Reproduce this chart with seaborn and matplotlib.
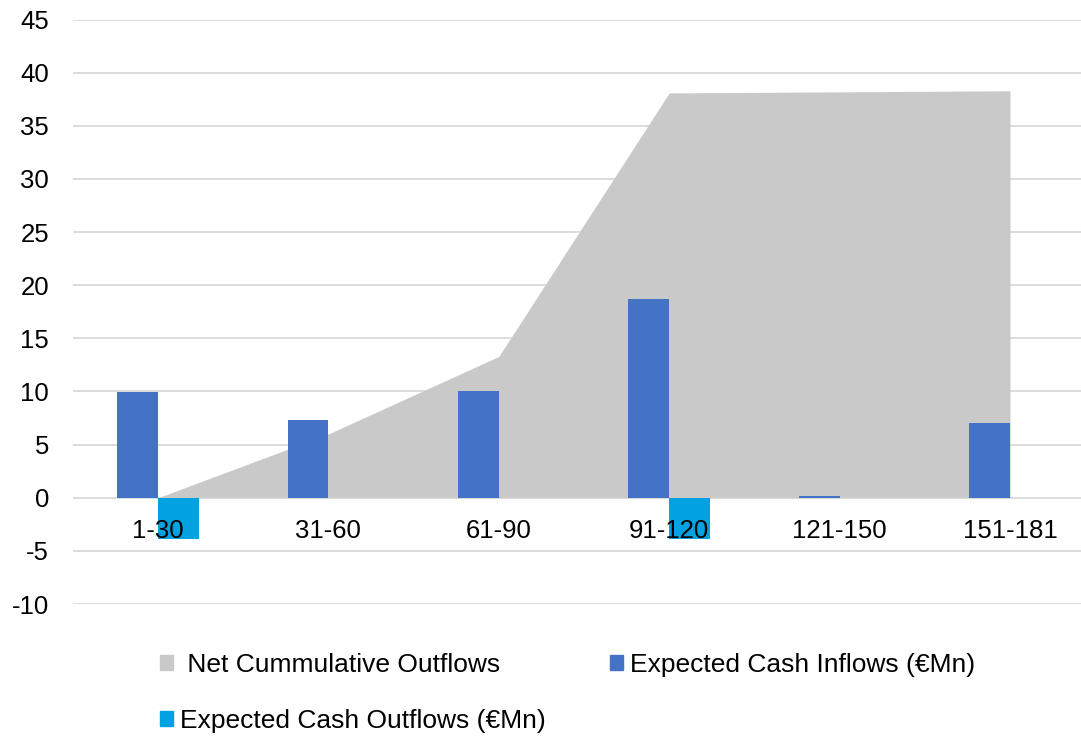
import matplotlib
matplotlib.use("Agg")
import matplotlib.pyplot as plt
import matplotlib.patches as mpatches
import seaborn as sns
import pandas as pd
import numpy as np

categories = ["1-30", "31-60", "61-90", "91-120", "121-150", "151-181"]
inflows = [9.95, 7.3, 10.05, 18.7, 0.2, 7.05]
outflows = [-3.9, 0, 0, -3.9, 0, 0]
net_cumulative = [0, 6.0, 13.3, 38.1, 38.2, 38.3]
yticks = [-10, -5, 0, 5, 10, 15, 20, 25, 30, 35, 40, 45]

name_in = "Expected Cash Inflows (€Mn)"
name_out = "Expected Cash Outflows (€Mn)"
name_net = " Net Cummulative Outflows"

c_in = "#4472C4"
c_out = "#00A2E0"
c_net = "#C9C9C9"

sns.set_style("white")
plt.rcParams["font.family"] = ["Liberation Sans", "DejaVu Sans"]
plt.rcParams["text.color"] = "black"

df = pd.DataFrame({
    "category": categories * 2,
    "value": inflows + outflows,
    "series": [name_in] * len(categories) + [name_out] * len(categories),
})

fig = plt.figure(figsize=(10.81, 7.36), dpi=100)
W, H = 1081, 736
left, right, top, bottom = 72.8, 1095.2, 19.6, 604
ax = fig.add_axes([left / W, 1 - bottom / H, (right - left) / W, (bottom - top) / H])

x = np.arange(len(categories))
ax.fill_between(x, net_cumulative, 0, color=c_net, linewidth=0, zorder=1)

sns.barplot(data=df, x="category", y="value", hue="series",
            hue_order=[name_in, name_out], palette=[c_in, c_out],
            width=0.48, dodge=True, saturation=1, legend=False,
            order=categories, ax=ax, zorder=2, linewidth=0, edgecolor="none")

ax.set_xlim(-0.5, len(categories) - 0.5)
ax.set_ylim(-10, 45)
ax.set_yticks(yticks)
ax.set_yticklabels([str(t) for t in yticks])
ax.grid(axis="y", color="#D9D9D9", linewidth=1.3, zorder=0)
ax.set_axisbelow(True)
ax.set_xlabel("")
ax.set_ylabel("")
for s in ["top", "right", "left"]:
    ax.spines[s].set_visible(False)
ax.spines["bottom"].set_position(("data", 0))
ax.spines["bottom"].set_visible(False)
ax.set_xticks(x)
ax.set_xticklabels(categories)
ax.tick_params(axis="x", length=0, pad=15, labelsize=18.5, colors="black")
ax.tick_params(axis="y", length=0, pad=17, labelsize=18.5, colors="black")
ax.xaxis.set_zorder(5)

handles = [
    mpatches.Patch(color=c_net, label=name_net),
    mpatches.Patch(color=c_out, label=name_out),
    mpatches.Patch(color=c_in, label=name_in),
]
fig.legend(handles=handles, ncol=2, loc="upper left",
           bbox_to_anchor=(160 / W, 1 - 653 / H), frameon=False,
           fontsize=19, handlelength=0.5, handleheight=0.5,
           handletextpad=0.25, columnspacing=2.45, labelspacing=1.22,
           borderaxespad=0, borderpad=0, labelcolor="black")

fig.savefig("out.png", dpi=100)
